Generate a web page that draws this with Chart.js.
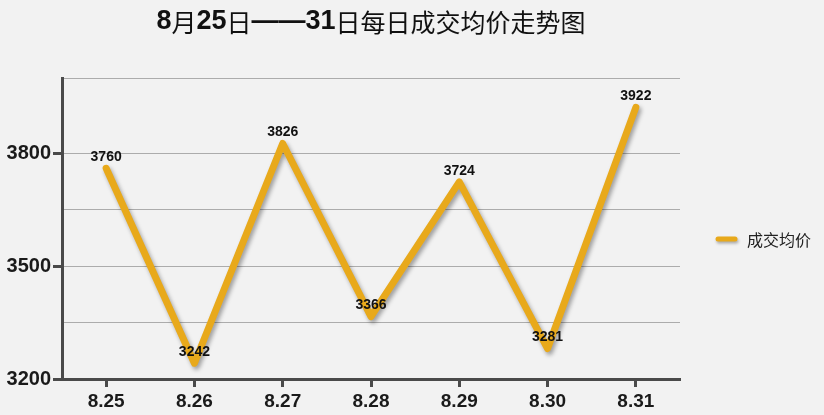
<!DOCTYPE html>
<html>
<head>
<meta charset="utf-8">
<script src="https://cdn.jsdelivr.net/npm/chart.js@4.4.1/dist/chart.umd.min.js"></script>
<style>
  html, body { margin: 0; padding: 0; background: #f2f2f2; }
  #wrap { width: 824px; height: 415px; }
</style>
</head>
<body>
<div id="wrap"><canvas id="c"></canvas></div>
<script>
const categories = ['8.25', '8.26', '8.27', '8.28', '8.29', '8.30', '8.31']
const avgPrice = [3760, 3242, 3826, 3366, 3724, 3281, 3922]
const yTicks = [3200, 3350, 3500, 3650, 3800, 4000]
const yLabels = [3200, 3500, 3800]
const seriesName = '成交均价'
const titleRuns = [
  ['8', true], ['月', false], ['25', true], ['日', false],
  ['——31', true], ['日每日成交均价走势图', false]
]

const LINE = '#e8a91b'
const AXIS = '#4a4a4a'

const titlePlugin = {
  id: 'mixedTitle',
  afterDraw(chart) {
    const ctx = chart.ctx
    const fontFor = (b) => b
      ? 'bold 27px "Liberation Sans", Arial, sans-serif'
      : '25px "Noto Sans CJK SC", sans-serif'
    ctx.save()
    let total = 0
    titleRuns.forEach(([t, b]) => { ctx.font = fontFor(b); total += ctx.measureText(t).width })
    const area = chart.chartArea
    let x = (area.left + area.right) / 2 - total / 2
    ctx.fillStyle = '#111'
    ctx.textBaseline = 'middle'
    titleRuns.forEach(([t, b]) => {
      ctx.font = fontFor(b)
      ctx.fillText(t, x, 22)
      x += ctx.measureText(t).width
    })
    ctx.restore()
  }
}

const shadowPlugin = {
  id: 'lineShadow',
  beforeDatasetsDraw(chart) {
    const ctx = chart.ctx
    ctx.save()
    ctx.shadowColor = 'rgba(0,0,0,0.35)'
    ctx.shadowBlur = 4
    ctx.shadowOffsetX = 2
    ctx.shadowOffsetY = 3
  },
  afterDatasetsDraw(chart) {
    chart.ctx.restore()
  }
}

const labelPlugin = {
  id: 'valueLabels',
  afterDatasetsDraw(chart) {
    const ctx = chart.ctx
    const meta = chart.getDatasetMeta(0)
    ctx.save()
    ctx.font = 'bold 14px "Liberation Sans", Arial, sans-serif'
    ctx.fillStyle = '#111'
    ctx.textAlign = 'center'
    ctx.textBaseline = 'middle'
    meta.data.forEach((pt, i) => {
      ctx.fillText(String(avgPrice[i]), pt.x, pt.y - 11)
    })
    ctx.restore()
  }
}

const legendPlugin = {
  id: 'sideLegend',
  afterDraw(chart) {
    const ctx = chart.ctx
    const y = 239
    ctx.save()
    ctx.shadowColor = 'rgba(0,0,0,0.3)'
    ctx.shadowBlur = 3
    ctx.shadowOffsetX = 1
    ctx.shadowOffsetY = 2
    ctx.strokeStyle = LINE
    ctx.lineWidth = 5
    ctx.lineCap = 'round'
    ctx.beginPath()
    ctx.moveTo(718, y)
    ctx.lineTo(735, y)
    ctx.stroke()
    ctx.shadowColor = 'transparent'
    ctx.font = '16px "Noto Sans CJK SC", sans-serif'
    ctx.fillStyle = '#222'
    ctx.textBaseline = 'middle'
    ctx.fillText(seriesName, 747, y + 1)
    ctx.restore()
  }
}

new Chart(document.getElementById('c'), {
  type: 'line',
  data: {
    labels: categories,
    datasets: [{
      label: seriesName,
      data: avgPrice,
      borderColor: LINE,
      borderWidth: 7,
      borderJoinStyle: 'round',
      borderCapStyle: 'round',
      pointRadius: 0,
      tension: 0,
      fill: false
    }]
  },
  options: {
    responsive: true,
    maintainAspectRatio: false,
    animation: false,
    layout: { padding: { top: 78, right: 144, left: 0, bottom: 0 } },
    plugins: {
      legend: { display: false },
      title: { display: false },
      tooltip: { enabled: false }
    },
    scales: {
      x: {
        offset: true,
        grid: {
          drawOnChartArea: false,
          tickLength: 8,
          tickColor: AXIS,
          tickWidth: 3
        },
        border: { color: AXIS, width: 3 },
        ticks: {
          color: '#1a1a1a',
          padding: 3,
          font: { family: '"Liberation Sans", Arial, sans-serif', size: 19, weight: 'bold' }
        },
        afterFit: (scale) => { scale.height = 36 }
      },
      y: {
        min: 3200,
        max: 4000,
        afterBuildTicks: (scale) => { scale.ticks = yTicks.map(v => ({ value: v })) },
        grid: {
          color: '#acacac',
          lineWidth: 1,
          tickLength: 9,
          tickWidth: 3,
          tickColor: (c) => yLabels.includes(c.tick && c.tick.value) ? AXIS : 'rgba(0,0,0,0)'
        },
        border: { color: AXIS, width: 3 },
        ticks: {
          color: '#1a1a1a',
          padding: 2,
          font: { family: '"Liberation Sans", Arial, sans-serif', size: 20, weight: 'bold' },
          callback: (v) => yLabels.includes(v) ? String(v) : ''
        },
        afterFit: (scale) => { scale.width = 62 }
      }
    }
  },
  plugins: [titlePlugin, shadowPlugin, labelPlugin, legendPlugin]
})
</script>
</body>
</html>
